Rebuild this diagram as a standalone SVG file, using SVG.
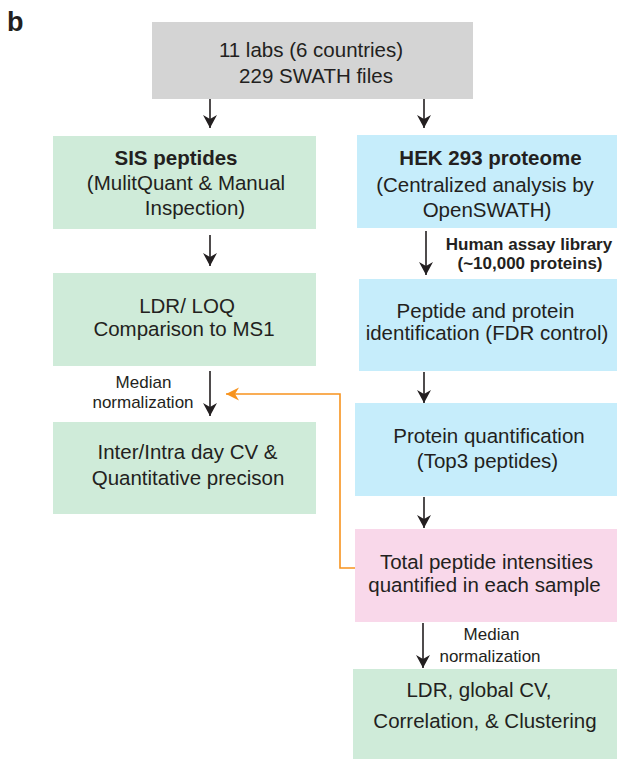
<svg xmlns="http://www.w3.org/2000/svg" width="617" height="760" viewBox="0 0 617 760">
<defs>
<style>
text{font-family:"Liberation Sans",Arial,Helvetica,sans-serif;fill:#231f20;text-anchor:middle}
.m{font-size:20.5px}
.b{font-weight:bold}
.s{font-size:17px}
.sb{font-size:17px;font-weight:bold}
.gray{fill:#d4d4d4}
.green{fill:#cfebd9}
.blue{fill:#c6edfb}
.pink{fill:#f9d8ea}
.arr{stroke:#231f20;stroke-width:1.6;fill:none;marker-end:url(#ah)}
.org{stroke:#f7931e;stroke-width:1.6;fill:none;marker-end:url(#oh)}
</style>
<marker id="ah" markerUnits="userSpaceOnUse" markerWidth="16" markerHeight="16" viewBox="-14 -8 16 16" refX="0" refY="0" orient="auto">
<path d="M0,0 L-13,-7 L-9,0 L-13,7 Z" fill="#231f20"/>
</marker>
<marker id="oh" markerUnits="userSpaceOnUse" markerWidth="16" markerHeight="16" viewBox="-14 -8 16 16" refX="0" refY="0" orient="auto">
<path d="M0,0 L-13,-6.5 L-9,0 L-13,6.5 Z" fill="#f7931e"/>
</marker>
</defs>
<rect width="617" height="760" fill="#ffffff"/>
<text x="7" y="31" style="font-size:27px;font-weight:bold;text-anchor:start">b</text>

<g id="connectors">
<path class="arr" d="M210,99 V128"/>
<path class="arr" d="M424,99 V128"/>
<path class="arr" d="M210,235 V266"/>
<path class="arr" d="M426,231 V275"/>
<path class="arr" d="M210,371 V416"/>
<path class="arr" d="M424,372 V403"/>
<path class="arr" d="M424,497 V528"/>
<path class="arr" d="M423,623 V668"/>
<path class="org" d="M355,568 H340 V394 H226"/>
<text class="sb" x="529" y="250">Human assay library</text>
<text class="sb" x="530" y="269">(~10,000 proteins)</text>
<text class="s" x="143.5" y="388">Median</text>
<text class="s" x="143" y="408">normalization</text>
<text class="s" x="491.5" y="640">Median</text>
<text class="s" x="490" y="662">normalization</text>
</g>

<g id="n-top">
<rect class="gray" x="152" y="22" width="321" height="77"/>
<text class="m" x="311" y="57">11 labs (6 countries)</text>
<text class="m" x="316" y="83">229 SWATH files</text>
</g>
<g id="n-sis">
<rect class="green" x="53" y="136" width="263" height="93"/>
<text class="m b" x="176" y="165">SIS peptides</text>
<text class="m" x="186" y="190">(MulitQuant &amp; Manual</text>
<text class="m" x="195" y="215">Inspection)</text>
</g>
<g id="n-ldr">
<rect class="green" x="53" y="273" width="263" height="93"/>
<text class="m" x="187" y="313">LDR/ LOQ</text>
<text class="m" x="184" y="336">Comparison to MS1</text>
</g>
<g id="n-inter">
<rect class="green" x="53" y="422" width="263" height="92"/>
<text class="m" x="187.5" y="459">Inter/Intra day CV &amp;</text>
<text class="m" x="188" y="485">Quantitative precison</text>
</g>
<g id="n-hek">
<rect class="blue" x="357" y="135" width="260" height="93"/>
<text class="m b" x="490.5" y="165">HEK 293 proteome</text>
<text class="m" x="485" y="192">(Centralized analysis by</text>
<text class="m" x="487" y="217">OpenSWATH)</text>
</g>
<g id="n-pep">
<rect class="blue" x="359" y="279" width="258" height="92"/>
<text class="m" x="485.5" y="318">Peptide and protein</text>
<text class="m" x="487" y="340">identification (FDR control)</text>
</g>
<g id="n-prot">
<rect class="blue" x="355" y="403" width="262" height="93"/>
<text class="m" x="489" y="443">Protein quantification</text>
<text class="m" x="487.5" y="468">(Top3 peptides)</text>
</g>
<g id="n-total">
<rect class="pink" x="355" y="529" width="262" height="93"/>
<text class="m" x="486.5" y="569">Total peptide intensities</text>
<text class="m" x="484.5" y="592">quantified in each sample</text>
</g>
<g id="n-final">
<rect class="green" x="353" y="669" width="264" height="90"/>
<text class="m" x="479" y="697">LDR, global CV,</text>
<text class="m" x="485" y="728">Correlation, &amp; Clustering</text>
</g>
</svg>
